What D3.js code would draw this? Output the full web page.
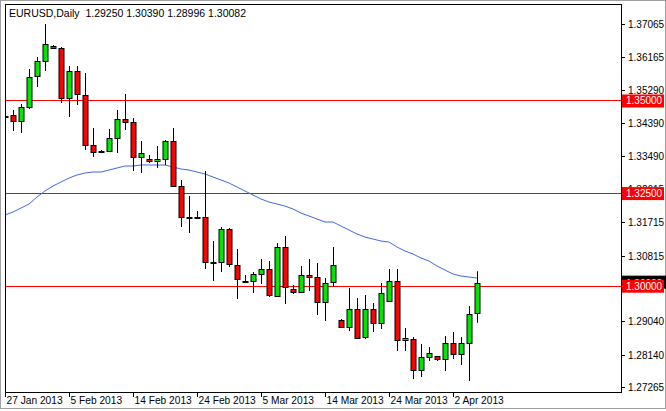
<!DOCTYPE html>
<html><head><meta charset="utf-8">
<script src="https://cdn.jsdelivr.net/npm/d3@7"></script>
<style>body{margin:0;background:#fff}svg{display:block}</style></head>
<body><svg id="c" width="666" height="411"></svg>
<script>
const opens=[1.34581,1.34608,1.34446,1.34824,1.35661,1.36066,1.36471,1.36417,1.35067,1.35796,1.35148,1.33798,1.33636,1.33636,1.33987,1.34500,1.34419,1.33474,1.33420,1.33366,1.33420,1.33906,1.32691,1.31854,1.31854,1.31854,1.30639,1.30639,1.31530,1.30558,1.30126,1.30126,1.30315,1.30450,1.29721,1.31044,1.29910,1.29829,1.30288,1.30234,1.29559,1.30099,1.29073,1.28884,1.29370,1.28614,1.29370,1.28992,1.29586,1.30126,1.28533,1.28560,1.27723,1.28074,1.28101,1.28020,1.28452,1.28155,1.28452,1.29250];
const highs=[1.34635,1.34743,1.34905,1.35850,1.36174,1.37065,1.36498,1.36444,1.35931,1.35931,1.35742,1.34257,1.33663,1.34230,1.34743,1.35175,1.34527,1.33906,1.33528,1.33771,1.33933,1.34257,1.32853,1.32421,1.32016,1.33096,1.31206,1.31584,1.31557,1.30990,1.30288,1.30369,1.30720,1.30666,1.31152,1.31341,1.30018,1.30531,1.30720,1.30612,1.30207,1.31044,1.29100,1.29937,1.29667,1.29748,1.29532,1.30072,1.30450,1.30450,1.28857,1.28614,1.28425,1.28344,1.28101,1.28641,1.28749,1.28614,1.29451,1.30390];
const lows=[1.34527,1.34176,1.34122,1.34770,1.35364,1.35796,1.36390,1.34932,1.34554,1.34878,1.33663,1.33474,1.33609,1.33609,1.33582,1.34203,1.33096,1.33042,1.33312,1.33177,1.33258,1.32664,1.31584,1.31422,1.31800,1.30450,1.30126,1.30369,1.30504,1.29640,1.30099,1.29802,1.30045,1.29694,1.29694,1.29505,1.29775,1.29802,1.29856,1.29208,1.29046,1.29964,1.28857,1.28776,1.28560,1.28560,1.28749,1.28830,1.29559,1.28236,1.28236,1.27480,1.27534,1.27966,1.27966,1.27696,1.28020,1.27858,1.27426,1.28996];
const closes=[1.34581,1.34446,1.34824,1.35634,1.36066,1.36525,1.36417,1.35067,1.35796,1.35175,1.33798,1.33609,1.33636,1.33987,1.34500,1.34419,1.33474,1.33582,1.33366,1.33420,1.33906,1.32691,1.31854,1.31854,1.31854,1.30639,1.30639,1.31530,1.30585,1.30180,1.30126,1.30315,1.30450,1.29748,1.31044,1.29964,1.29829,1.30288,1.30234,1.29559,1.30072,1.30558,1.28884,1.29370,1.28587,1.29370,1.28992,1.29802,1.30126,1.28533,1.28587,1.27723,1.28074,1.28182,1.28020,1.28452,1.28155,1.28452,1.29235,1.30082];
const ma=[1.31908,1.31989,1.32097,1.32205,1.32394,1.32556,1.32691,1.32799,1.32907,1.32988,1.33042,1.33069,1.33069,1.33123,1.33177,1.33231,1.33231,1.33258,1.33258,1.33258,1.33258,1.33204,1.33150,1.33123,1.33069,1.33015,1.32934,1.32853,1.32772,1.32664,1.32556,1.32448,1.32340,1.32259,1.32205,1.32151,1.32070,1.31962,1.31881,1.31800,1.31719,1.31719,1.31611,1.31503,1.31395,1.31314,1.31260,1.31206,1.31179,1.31044,1.30936,1.30855,1.30747,1.30666,1.30531,1.30423,1.30315,1.30261,1.30234,1.30207];
const dateLabels=["27 Jan 2013","5 Feb 2013","14 Feb 2013","24 Feb 2013","5 Mar 2013","14 Mar 2013","24 Mar 2013","2 Apr 2013"];
const dateIdx=[0,8,16,24,32,40,48,56];
const priceTicks=[1.37065,1.36165,1.35290,1.34390,1.33490,1.32615,1.31715,1.30815,1.29940,1.29040,1.28140,1.27265];
const levels=[1.35,1.325,1.30];
const header="EURUSD,Daily  1.29250 1.30390 1.28996 1.30082";

const svg=d3.select("#c");
const L=5,R=621,T=4,B=392;
const x=d3.scaleLinear().domain([0,59]).range([5,477]);
const y=d3.scaleLinear().domain([1.27265,1.37065]).range([387,24]);
const font="Liberation Sans, Arial, sans-serif";
svg.append("rect").attr("x",0.5).attr("y",0.5).attr("width",665).attr("height",408).attr("fill","#fff").attr("stroke","#a0a0a0");
svg.append("clipPath").attr("id","pc").append("rect").attr("x",L).attr("y",T).attr("width",R-L).attr("height",B-T);
const g=svg.append("g").attr("clip-path","url(#pc)");
g.selectAll(".lv").data(levels).join("line").attr("x1",L).attr("x2",R).attr("y1",d=>Math.round(y(d))+0.5).attr("y2",d=>Math.round(y(d))+0.5).attr("stroke","#ff0000");
const line=d3.line().x((d,i)=>x(i)).y(d=>y(d));
g.append("path").attr("d",line(ma)).attr("fill","none").attr("stroke","#4169e1").attr("stroke-width",1);
const idx=d3.range(opens.length);
const c=g.selectAll(".cd").data(idx).join("g");
c.append("line").attr("x1",i=>Math.round(x(i))+0.5).attr("x2",i=>Math.round(x(i))+0.5).attr("y1",i=>y(highs[i])).attr("y2",i=>y(lows[i])).attr("stroke","#000");
c.append("rect").attr("x",i=>Math.round(x(i))-2).attr("width",5)
 .attr("y",i=>Math.round(y(Math.max(opens[i],closes[i])))+0.5)
 .attr("height",i=>Math.max(1,Math.abs(Math.round(y(opens[i]))-Math.round(y(closes[i])))))
 .attr("fill",i=>closes[i]>=opens[i]?"#00e600":"#ff0000").attr("stroke","#000");
svg.append("rect").attr("x",L+0.5).attr("y",T+0.5).attr("width",R-L).attr("height",B-T).attr("fill","none").attr("stroke","#000");
svg.append("text").attr("x",9).attr("y",17).attr("font-family",font).attr("font-size",10.5).attr("fill","#000").attr("xml:space","preserve").text(header);
const pa=svg.append("g");
pa.selectAll("line").data(priceTicks).join("line").attr("x1",R).attr("x2",R+4).attr("y1",d=>Math.round(y(d))+0.5).attr("y2",d=>Math.round(y(d))+0.5).attr("stroke","#000");
pa.selectAll("text").data(priceTicks).join("text").attr("x",628).attr("y",d=>y(d)+4).attr("font-family",font).attr("font-size",10).text(d=>d.toFixed(5));
const cur=closes[closes.length-1];
svg.append("rect").attr("x",622).attr("y",y(cur)-7).attr("width",44).attr("height",13).attr("fill","#000");
svg.append("text").attr("x",626).attr("y",y(cur)+4).attr("font-family",font).attr("font-size",10).attr("fill","#fff").text(cur.toFixed(5));
levels.forEach(v=>{
 svg.append("rect").attr("x",622).attr("y",y(v)-6).attr("width",42).attr("height",13).attr("fill","#ff0000");
 svg.append("text").attr("x",626).attr("y",y(v)+4).attr("font-family",font).attr("font-size",10).attr("fill","#fff").text(v.toFixed(5));
});
const da=svg.append("g");
dateIdx.forEach((i,k)=>{
 const xx=Math.round(x(i))+0.5;
 da.append("line").attr("x1",xx).attr("x2",xx).attr("y1",B).attr("y2",B+5).attr("stroke","#000");
 da.append("text").attr("x",xx+1).attr("y",404).attr("font-family",font).attr("font-size",10.2).text(dateLabels[k]);
});
</script></body></html>
